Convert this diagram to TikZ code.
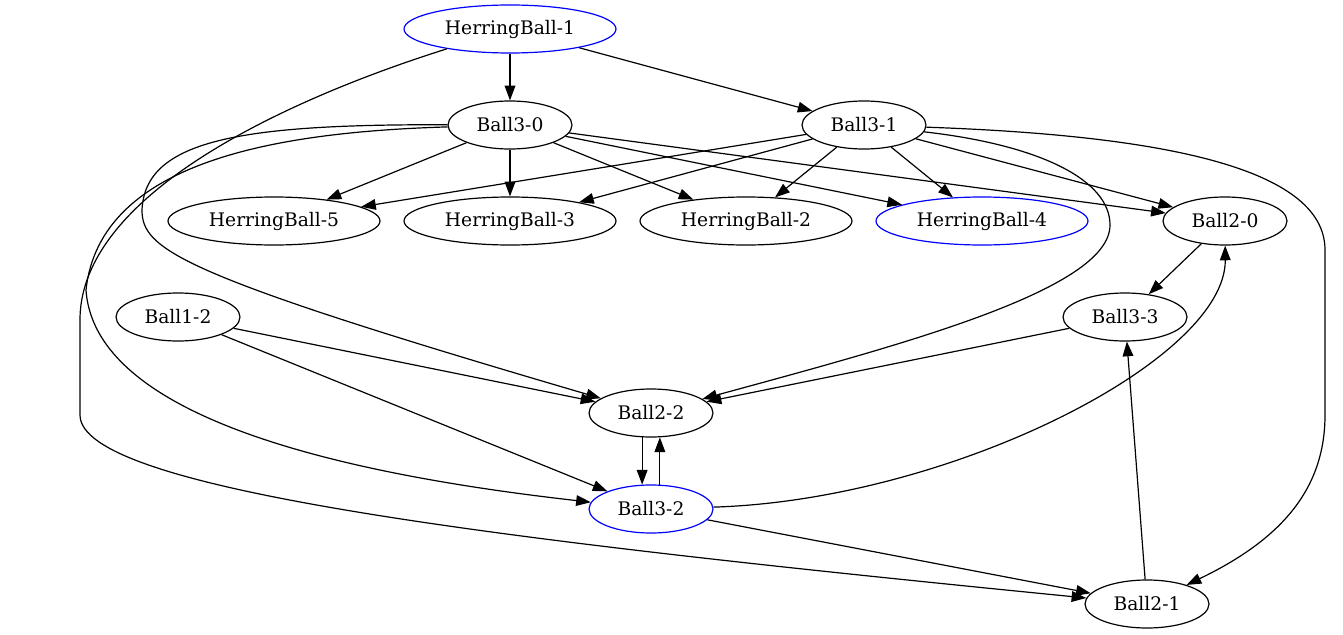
\documentclass[tikz,border=0pt]{standalone}
\usepackage{fontspec}
\setmainfont{DejaVu Serif}
\usetikzlibrary{arrows.meta,shapes.geometric}

\begin{document}
\begin{tikzpicture}[
    x=0.75pt, y=-0.75pt,
    >={Triangle[length=11pt,width=8pt]},
    every node/.style={font=\fontsize{14}{16}\selectfont},
    ball/.style={ellipse, draw, line width=0.9pt, inner sep=0pt, minimum width=93pt, minimum height=36pt},
    herring/.style={ball, minimum width=159pt},
    tagged/.style={draw=blue},
    edge/.style={->, line width=0.9pt}
]
\useasboundingbox (0,0) rectangle (1343,635);

% Nodes, rank by rank
\node[herring, tagged] (hb1) at (510, 29) {HerringBall-1};

\node[ball] (b30) at (510, 125) {Ball3-0};
\node[ball] (b31) at (864, 125) {Ball3-1};

\node[herring] (hb5) at (274, 221) {HerringBall-5};
\node[herring] (hb3) at (510, 221) {HerringBall-3};
\node[herring] (hb2) at (746, 221) {HerringBall-2};
\node[herring, tagged] (hb4) at (982, 221) {HerringBall-4};
\node[ball] (b20) at (1225, 221) {Ball2-0};

\node[ball] (b12) at (178, 317) {Ball1-2};
\node[ball] (b33) at (1125, 317) {Ball3-3};

\node[ball] (b22) at (651, 413) {Ball2-2};
\node[ball, tagged] (b32) at (651, 509) {Ball3-2};
\node[ball] (b21) at (1147, 604) {Ball2-1};

% Edges out of HerringBall-1
\draw[edge] (hb1) -- (b30);
\draw[edge] (hb1) -- (b31);
\draw[edge] (hb1) .. controls (300, 95) and (80, 190) .. (80, 320) -- (80, 415)
    .. controls (80, 490) and (500, 540) .. (b21);

% Edges out of Ball3-0
\draw[edge] (b30) -- (hb5);
\draw[edge] (b30) -- (hb3);
\draw[edge] (b30) -- (hb2);
\draw[edge] (b30) -- (hb4);
\draw[edge] (b30) -- (b20);
\draw[edge] (b30) .. controls (240, 124) and (145, 140) .. (142, 210)
    .. controls (142, 250) and (180, 275) .. (b22);
\draw[edge] (b30) .. controls (280, 132) and (100, 160) .. (86, 290)
    .. controls (95, 420) and (350, 475) .. (b32);

% Edges out of Ball3-1
\draw[edge] (b31) -- (hb5);
\draw[edge] (b31) -- (hb3);
\draw[edge] (b31) -- (hb2);
\draw[edge] (b31) -- (hb4);
\draw[edge] (b31) -- (b20);
\draw[edge] (b31) .. controls (1040, 145) and (1110, 180) .. (1110, 225)
    .. controls (1110, 290) and (900, 345) .. (b22);
\draw[edge] (b31) .. controls (1150, 135) and (1325, 165) .. (1325, 250) -- (1325, 415)
    .. controls (1325, 490) and (1280, 540) .. (b21);

% Lower part
\draw[edge] (b12) -- (b22);
\draw[edge] (b12) -- (b32);
\draw[edge] (b22.250) -- (b32.110);
\draw[edge] (b32.70) -- (b22.290);
\draw[edge] (b32) .. controls (950, 500) and (1226, 360) .. (b20);
\draw[edge] (b32) -- (b21);
\draw[edge] (b20) -- (b33);
\draw[edge] (b33) -- (b22);
\draw[edge] (b21) -- (b33);

\end{tikzpicture}
\end{document}
